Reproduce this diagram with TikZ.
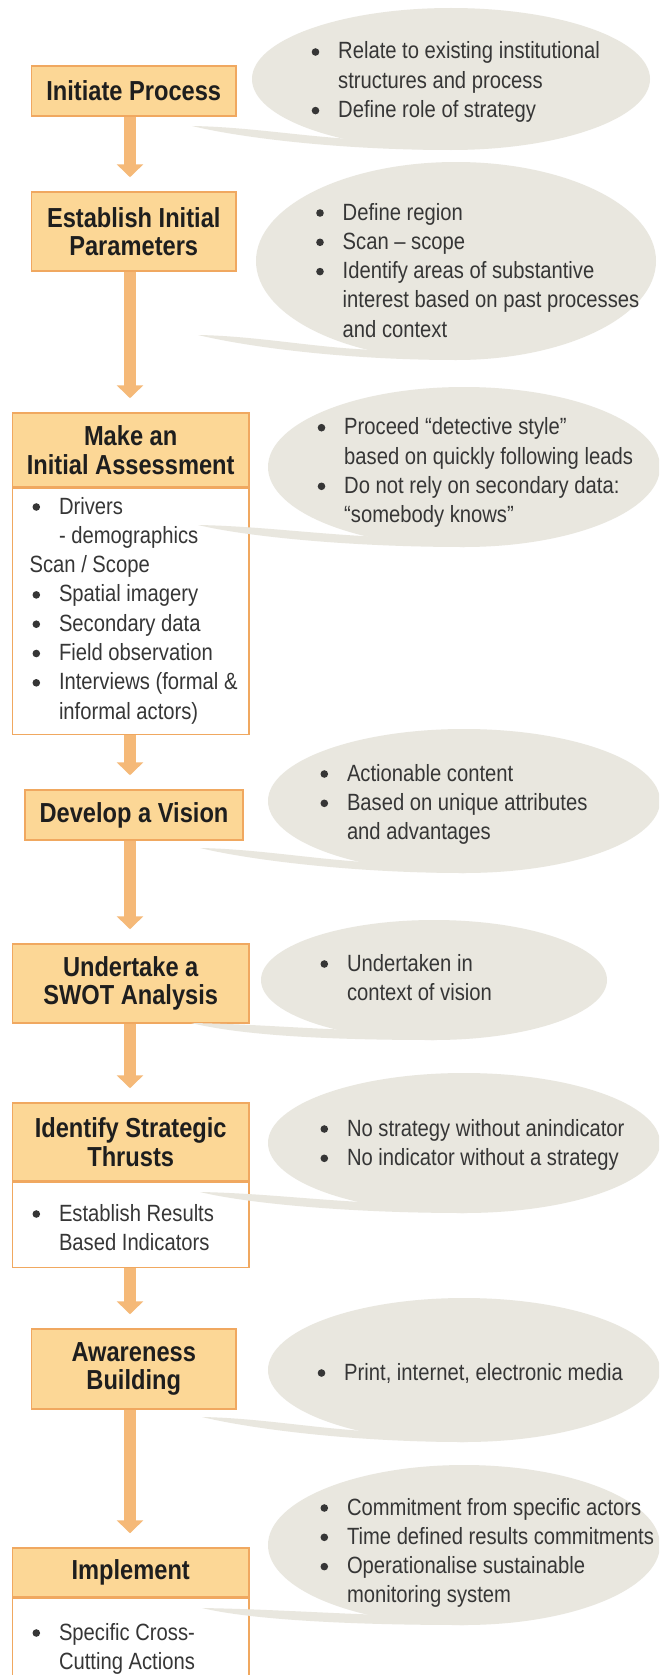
\documentclass[tikz,border=0pt]{standalone}
\usepackage{fontspec}
\setmainfont{Liberation Sans}[FakeStretch=0.86]
\usetikzlibrary{shapes.geometric,arrows.meta}
\definecolor{boxfill}{HTML}{FCD796}
\definecolor{boxline}{HTML}{F0A860}
\definecolor{arrowc}{HTML}{F5B978}
\definecolor{bubblec}{HTML}{E9E7DF}
\definecolor{titlec}{HTML}{1E1E1E}
\definecolor{textc}{HTML}{363636}
\newcommand\titlef{\fontsize{27.5}{28.5}\selectfont\bfseries}
\newcommand\textf{\fontsize{23.5}{29.3}\selectfont}
% bullet dot: text x, first baseline, line index
\newcommand\bl[3]{\fill[textc] ({#1-22.5},{#2+29.3*#3-7}) circle[radius=3.8pt];}
\newcommand\bubbletail[6]{%
  \fill[bubblec] (#5,#6) .. controls ({#5+60},{#6+1}) and ({#1-140},{#2+#4-12}) .. ({#1-80},{#2+#4-10})
    -- ({#1},{#2+#4-10}) -- ({#1},{#2+#4})
    .. controls ({#1-110},{#2+#4}) and ({#5+50},{#6+12}) .. cycle;}
\tikzset{
  hdr/.style={draw=boxline, line width=1.5pt, fill=boxfill, inner sep=0pt, align=center, font=\titlef, text=titlec},
  bodybox/.style={draw=boxline, line width=1.5pt, fill=white, inner sep=0pt},
  bubble/.style={ellipse, fill=bubblec, inner sep=0pt},
  btext/.style={anchor=base west, inner sep=0pt, font=\textf, text=textc},
  flow/.style={draw=arrowc, line width=12pt, -{Triangle[width=26pt,length=13pt]}, shorten >=14pt},
}
\begin{document}
\begin{tikzpicture}[x=1pt,y=-1pt]
\path[use as bounding box, clip] (0,0) rectangle (659,1675);
\fill[white] (0,0) rectangle (659,1675);
\coordinate (ax) at (130,0);

% ---------- process boxes ----------
\node[hdr, minimum width=204.5pt, minimum height=50pt] (b1) at (133.75,91) {Initiate Process};
\node[hdr, minimum width=204.5pt, minimum height=79pt] (b2) at (133.75,231.5) {Establish Initial\\Parameters};
\node[hdr, minimum width=236.2pt, minimum height=74pt] (b3) at (130.7,450) {Make an\\Initial Assessment};
\node[bodybox, minimum width=236.2pt, minimum height=246pt, anchor=north] (b3body) at (b3.south) {};
\node[hdr, minimum width=218pt, minimum height=50pt] (b4) at (134,815) {Develop a Vision};
\node[hdr, minimum width=236.2pt, minimum height=79pt] (b5) at (130.7,983.5) {Undertake a\\SWOT Analysis};
\node[hdr, minimum width=236.2pt, minimum height=78pt] (b6) at (130.7,1142) {Identify Strategic\\Thrusts};
\node[bodybox, minimum width=236.2pt, minimum height=85pt, anchor=north] (b6body) at (b6.south) {};
\node[hdr, minimum width=204.5pt, minimum height=80pt] (b7) at (133.75,1369) {Awareness\\Building};
\node[hdr, minimum width=236.2pt, minimum height=49pt] (b8) at (130.7,1572.5) {Implement};
\node[bodybox, minimum width=236.2pt, minimum height=110pt, anchor=north] (b8body) at (b8.south) {};

% ---------- bubbles ----------
\bubbletail{451}{79}{199}{71}{192}{126}
\node[bubble, minimum width=398pt, minimum height=142pt] (e1) at (451,79) {};
\bubbletail{456}{261}{200}{99}{198}{335}
\node[bubble, minimum width=400pt, minimum height=198pt] (e2) at (456,261) {};
\bubbletail{464}{467}{196}{80}{198}{525}
\node[bubble, minimum width=392pt, minimum height=160pt] (e3) at (464,467) {};
\bubbletail{464}{801}{196}{72}{200}{848}
\node[bubble, minimum width=392pt, minimum height=144pt] (e4) at (464,801) {};
\bubbletail{434}{980}{173}{60}{191}{1023}
\node[bubble, minimum width=346pt, minimum height=120pt] (e5) at (434,980) {};
\bubbletail{464}{1143}{196}{70}{200}{1192}
\node[bubble, minimum width=392pt, minimum height=140pt] (e6) at (464,1143) {};
\bubbletail{464}{1370}{196}{72}{202}{1417}
\node[bubble, minimum width=392pt, minimum height=144pt] (e7) at (464,1370) {};
\bubbletail{464}{1545}{196}{80}{202}{1608}
\node[bubble, minimum width=392pt, minimum height=160pt] (e8) at (464,1545) {};

% ---------- bubble texts ----------
\node[btext] (t1) at (338,59) {\begin{tabular}[t]{@{}l@{}}Relate to existing institutional\\ structures and process\\ Define role of strategy\end{tabular}};
\bl{338}{59}{0} \bl{338}{59}{2}
\node[btext] (t2) at (342.5,220) {\begin{tabular}[t]{@{}l@{}}Define region\\ Scan -- scope\\ Identify areas of substantive\\ interest based on past processes\\ and context\end{tabular}};
\bl{342.5}{220}{0} \bl{342.5}{220}{1} \bl{342.5}{220}{2}
\node[btext] (t3) at (344,434.7) {\begin{tabular}[t]{@{}l@{}}Proceed “detective style”\\ based on quickly following leads\\ Do not rely on secondary data:\\ “somebody knows”\end{tabular}};
\bl{344}{434.7}{0} \bl{344}{434.7}{2}
\node[btext] (t4) at (346.8,781) {\begin{tabular}[t]{@{}l@{}}Actionable content\\ Based on unique attributes\\ and advantages\end{tabular}};
\bl{346.8}{781}{0} \bl{346.8}{781}{1}
\node[btext] (t5) at (346.8,971) {\begin{tabular}[t]{@{}l@{}}Undertaken in\\ context of vision\end{tabular}};
\bl{346.8}{971}{0}
\node[btext] (t6) at (346.8,1136) {\begin{tabular}[t]{@{}l@{}}No strategy without anindicator\\ No indicator without a strategy\end{tabular}};
\bl{346.8}{1136}{0} \bl{346.8}{1136}{1}
\node[btext] (t7) at (344,1380) {Print, internet, electronic media};
\bl{344}{1380}{0}
\node[btext] (t8) at (346.8,1515) {\begin{tabular}[t]{@{}l@{}}Commitment from specific actors\\ Time defined results commitments\\ Operationalise sustainable\\ monitoring system\end{tabular}};
\bl{346.8}{1515}{0} \bl{346.8}{1515}{1} \bl{346.8}{1515}{2}

% ---------- box body texts ----------
\node[btext] (t3b) at (58.8,514) {\begin{tabular}[t]{@{}l@{}}Drivers\\ - demographics\\ \hspace*{-29.4pt}Scan / Scope\\ Spatial imagery\\ Secondary data\\ Field observation\\ Interviews (formal \&\\ informal actors)\end{tabular}};
\bl{58.8}{514}{0} \bl{58.8}{514}{3} \bl{58.8}{514}{4} \bl{58.8}{514}{5} \bl{58.8}{514}{6}
\node[btext] (t6b) at (58.8,1221) {\begin{tabular}[t]{@{}l@{}}Establish Results\\ Based Indicators\end{tabular}};
\bl{58.8}{1221}{0}
\node[btext] (t8b) at (58.8,1640) {\begin{tabular}[t]{@{}l@{}}Specific Cross-\\ Cutting Actions\end{tabular}};
\bl{58.8}{1640}{0}

% ---------- arrows ----------
\draw[flow] (b1.south -| ax) -- (b2.north -| ax);
\draw[flow] (b2.south -| ax) -- (b3.north -| ax);
\draw[flow] (b3body.south -| ax) -- (b4.north -| ax);
\draw[flow] (b4.south -| ax) -- (b5.north -| ax);
\draw[flow] (b5.south -| ax) -- (b6.north -| ax);
\draw[flow] (b6body.south -| ax) -- (b7.north -| ax);
\draw[flow] (b7.south -| ax) -- (b8.north -| ax);
\end{tikzpicture}
\end{document}
